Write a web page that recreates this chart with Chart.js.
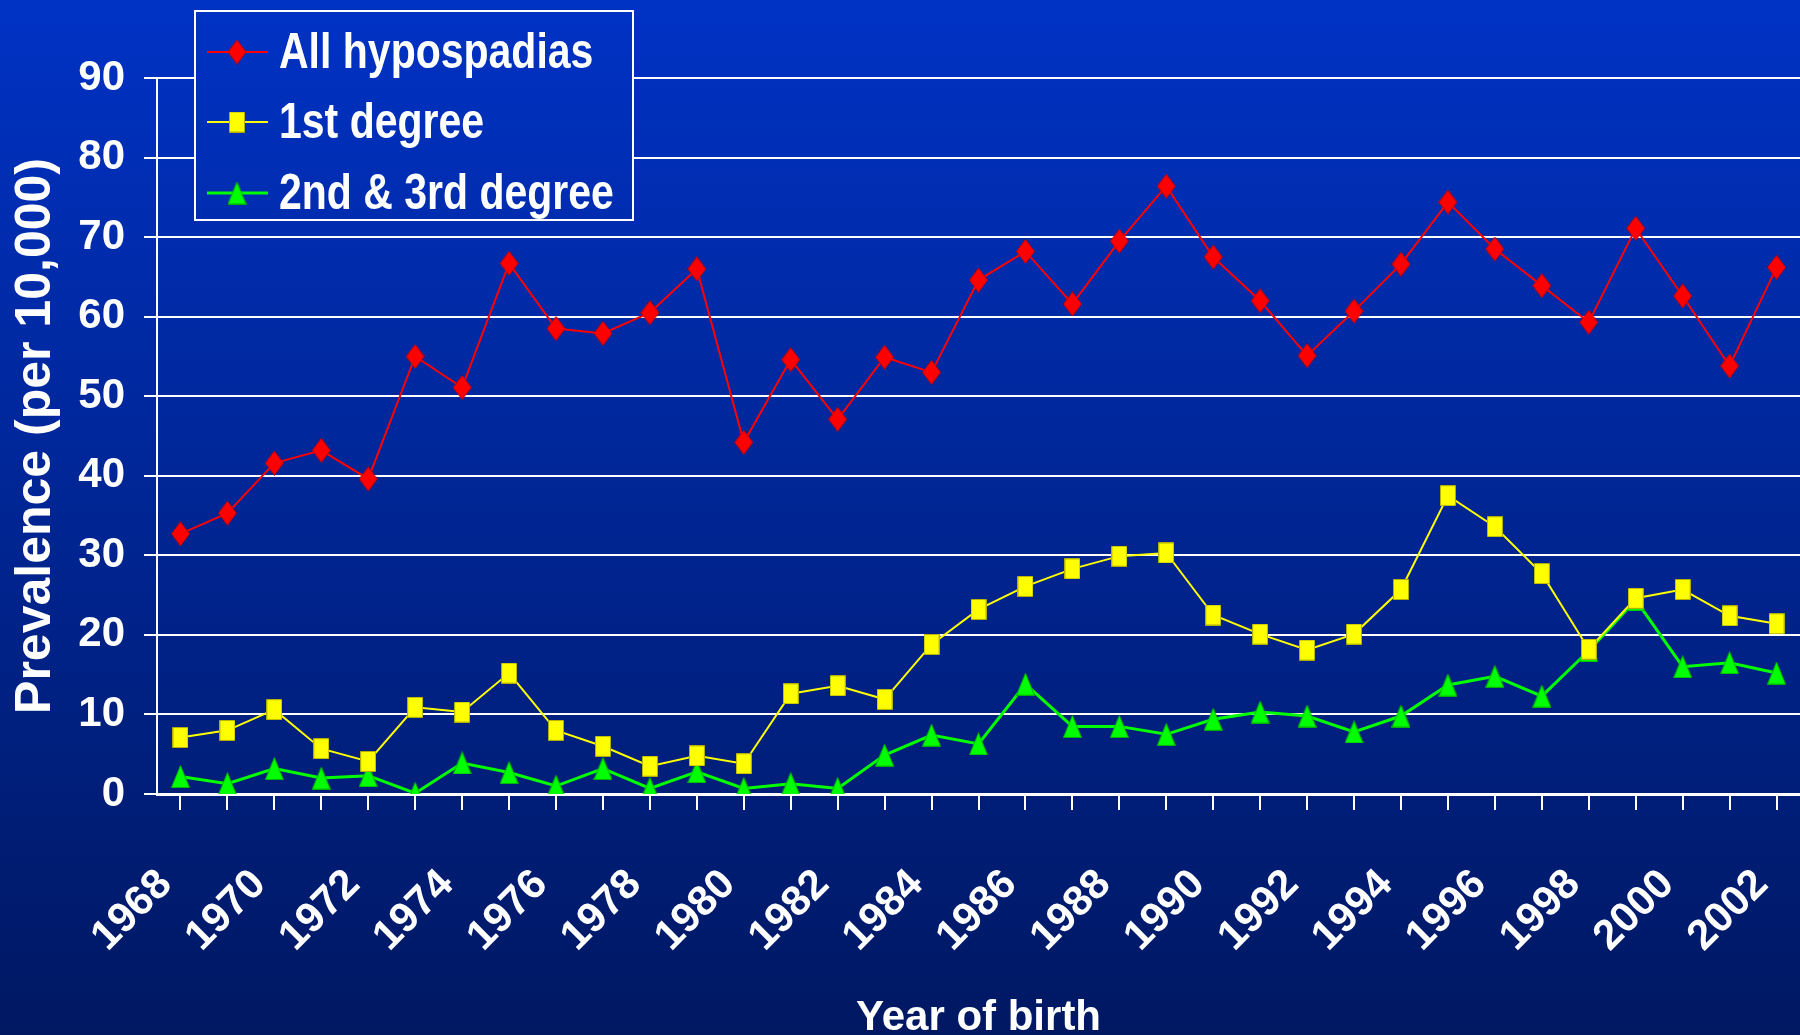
<!DOCTYPE html>
<html lang="en">
<head>
    <meta charset="UTF-8">
    <title>Hypospadias prevalence</title>
    <style>
      html, body { margin: 0; padding: 0; background: #001862; }
      #wrap { width: 1800px; height: 1035px; }
    </style>
</head>
<body>
<div id="wrap"><canvas id="prevChart" width="1800" height="1035"></canvas></div>

<script src="https://cdn.jsdelivr.net/npm/chart.js@4.4.1/dist/chart.umd.min.js"></script>

<script>
  const years = ['1968', '1969', '1970', '1971', '1972', '1973', '1974', '1975', '1976', '1977',
    '1978', '1979', '1980', '1981', '1982', '1983', '1984', '1985', '1986', '1987',
    '1988', '1989', '1990', '1991', '1992', '1993', '1994', '1995', '1996', '1997',
    '1998', '1999', '2000', '2001', '2002'];

  const allHypospadias = [32.7, 35.3, 41.6, 43.2, 39.6, 55.0, 51.1, 66.7, 58.5, 57.9,
    60.5, 66.0, 44.2, 54.6, 47.1, 54.9, 53.0, 64.6, 68.2, 61.6,
    69.5, 76.4, 67.5, 62.0, 55.1, 60.7, 66.6, 74.4, 68.5, 63.9,
    59.3, 71.1, 62.6, 53.8, 66.2];

  const firstDegree = [7.1, 8.0, 10.6, 5.7, 4.1, 10.9, 10.3, 15.2, 8.0, 6.0,
    3.5, 4.8, 3.8, 12.6, 13.6, 11.9, 18.8, 23.2, 26.1, 28.3,
    29.9, 30.3, 22.5, 20.1, 18.1, 20.1, 25.7, 37.5, 33.6, 27.7,
    18.2, 24.6, 25.7, 22.4, 21.4];

  const secondThirdDegree = [2.2, 1.3, 3.2, 2.0, 2.3, 0.1, 3.9, 2.7, 1.0, 3.2,
    0.7, 2.8, 0.7, 1.3, 0.7, 4.9, 7.4, 6.3, 13.8, 8.5,
    8.5, 7.5, 9.4, 10.3, 9.8, 7.8, 9.8, 13.7, 14.8, 12.3,
    18.0, 24.4, 16.0, 16.5, 15.2];

  const seriesNames = ['All hypospadias', '1st degree', '2nd & 3rd degree'];
  const yTicks = [0, 10, 20, 30, 40, 50, 60, 70, 80, 90];

  const FONT = '"Liberation Sans", Arial, sans-serif';

  // marker images, a bit taller than wide like the original slide
  function marker(shape, w, h, fill, edge) {
    const c = document.createElement('canvas');
    c.width = w;
    c.height = h;
    const g = c.getContext('2d');
    g.beginPath();
    if (shape === 'diamond') {
      g.moveTo(w / 2, 0.5); g.lineTo(w - 0.5, h / 2); g.lineTo(w / 2, h - 0.5); g.lineTo(0.5, h / 2);
    } else if (shape === 'square') {
      g.rect(0.5, 0.5, w - 1, h - 1);
    } else {
      g.moveTo(w / 2, 0.5); g.lineTo(w - 0.5, h - 0.5); g.lineTo(0.5, h - 0.5);
    }
    g.closePath();
    g.fillStyle = fill;
    g.fill();
    g.strokeStyle = edge;
    g.lineWidth = 1;
    g.stroke();
    return c;
  }

  const diamondImg = marker('diamond', 19, 25, '#ff0000', '#c00000');
  const squareImg = marker('square', 16, 21, '#ffff00', '#b0b000');
  const triangleImg = marker('triangle', 19, 23, '#00ff00', '#00b000');

  function bgGradient(ctx, h) {
    const grad = ctx.createLinearGradient(0, 0, 0, h);
    grad.addColorStop(0, '#0032c4');
    grad.addColorStop(1, '#001862');
    return grad;
  }

  const background = {
    id: 'background',
    beforeDraw(chart) {
      const ctx = chart.ctx;
      ctx.save();
      ctx.fillStyle = bgGradient(ctx, chart.height);
      ctx.fillRect(0, 0, chart.width, chart.height);
      ctx.restore();
    }
  };

  // boxed legend sitting over the top-left of the plot
  const boxLegend = {
    id: 'boxLegend',
    afterDraw(chart) {
      const ctx = chart.ctx;
      const box = {x: 195, y: 11, w: 438, h: 209};
      ctx.save();
      ctx.fillStyle = bgGradient(ctx, chart.height);
      ctx.fillRect(box.x, box.y, box.w, box.h);
      ctx.strokeStyle = '#ffffff';
      ctx.lineWidth = 2;
      ctx.strokeRect(box.x, box.y, box.w, box.h);

      const rows = [52, 122, 193];
      chart.data.datasets.forEach((ds, i) => {
        const y = rows[i];
        ctx.strokeStyle = ds.borderColor;
        ctx.lineWidth = ds.borderWidth;
        ctx.beginPath();
        ctx.moveTo(207, y);
        ctx.lineTo(268, y);
        ctx.stroke();
        const img = ds.pointStyle;
        ctx.drawImage(img, 237 - img.width / 2, y - img.height / 2);
        // slide text is tall and narrow
        ctx.save();
        ctx.translate(279, y + 2);
        ctx.scale(0.82, 1);
        ctx.fillStyle = '#ffffff';
        ctx.font = 'bold 50px ' + FONT;
        ctx.textBaseline = 'middle';
        ctx.textAlign = 'left';
        ctx.fillText(ds.label, 0, 0);
        ctx.restore();
      });
      ctx.restore();
    }
  };

  const config = {
    type: 'line',
    data: {
      labels: years,
      datasets: [
        {
          label: seriesNames[0],
          data: allHypospadias,
          borderColor: '#ff0000',
          borderWidth: 2,
          pointStyle: diamondImg,
          pointRadius: 12,
          tension: 0
        },
        {
          label: seriesNames[1],
          data: firstDegree,
          borderColor: '#ffff00',
          borderWidth: 2,
          pointStyle: squareImg,
          pointRadius: 10,
          tension: 0
        },
        {
          label: seriesNames[2],
          data: secondThirdDegree,
          borderColor: '#00ff00',
          borderWidth: 3,
          pointStyle: triangleImg,
          pointRadius: 11,
          tension: 0
        }
      ]
    },
    options: {
      responsive: false,
      animation: false,
      events: [],
      layout: {
        autoPadding: false,
        padding: {top: 78, right: 0, left: 0, bottom: 0}
      },
      plugins: {
        legend: {display: false},
        tooltip: {enabled: false}
      },
      scales: {
        x: {
          offset: true,
          afterFit: (scale) => {
            scale.height = 241;
            scale.paddingRight = 0;
            scale.paddingLeft = 0;
          },
          grid: {
            drawOnChartArea: false,
            drawTicks: true,
            tickLength: 16,
            color: '#ffffff',
            lineWidth: 2
          },
          border: {color: '#ffffff', width: 3},
          ticks: {
            autoSkip: false,
            minRotation: 45,
            maxRotation: 45,
            padding: 50,
            labelOffset: -15,
            color: '#ffffff',
            font: {family: FONT, size: 42, weight: 'bold'},
            callback: function (value, index) {
              return index % 2 === 0 ? this.getLabelForValue(value) : '';
            }
          },
          title: {
            display: true,
            text: 'Year of birth',
            color: '#ffffff',
            font: {family: FONT, size: 42, weight: 'bold'},
            padding: {top: 0, bottom: -9}
          }
        },
        y: {
          min: 0,
          max: 90,
          afterFit: (scale) => {
            scale.width = 157;
            scale.paddingTop = 0;
            scale.paddingBottom = 0;
          },
          afterBuildTicks: (scale) => { scale.ticks = yTicks.map(v => ({value: v})); },
          grid: {
            color: '#ffffff',
            lineWidth: 2,
            tickLength: 13
          },
          border: {color: '#ffffff', width: 2},
          ticks: {
            padding: 19,
            color: '#ffffff',
            font: {family: FONT, size: 42, weight: 'bold'}
          },
          title: {
            display: true,
            text: 'Prevalence (per 10,000)',
            color: '#ffffff',
            font: {family: FONT, size: 50, weight: 'bold'},
            padding: {top: 6, bottom: 0}
          }
        }
      }
    },
    plugins: [background, boxLegend]
  };

  new Chart(document.getElementById('prevChart'), config);
</script>
</body>
</html>
